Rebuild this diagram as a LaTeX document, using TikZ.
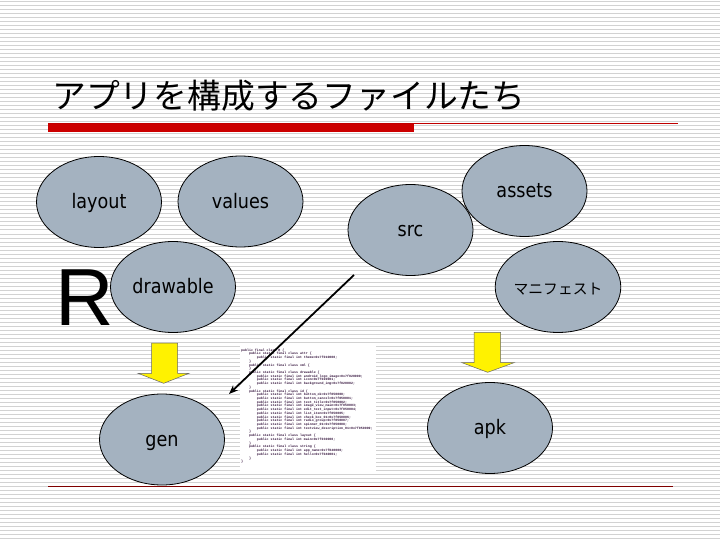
\documentclass[tikz,border=0pt]{standalone}
\usepackage{fontspec}
\usetikzlibrary{shapes.geometric,arrows.meta}
\newfontfamily\jp{Noto Sans CJK JP}
\newfontfamily\lab[FakeStretch=0.88]{DejaVu Sans}
\newfontfamily\bigR{Liberation Sans}
\newfontfamily\codefont{Liberation Mono}
\definecolor{stripe}{RGB}{210,210,210}
\definecolor{blobfill}{RGB}{164,178,192}
\definecolor{redbar}{RGB}{204,0,0}
\definecolor{redline}{RGB}{192,0,0}
\definecolor{botline}{RGB}{128,0,0}
\definecolor{codecol}{RGB}{56,24,64}
\newcommand{\ia}{\hspace*{7.84pt}}
\newcommand{\ib}{\hspace*{15.68pt}}
\tikzset{
  blob/.style={ellipse,draw=black,line width=0.8pt,fill=blobfill,inner sep=0pt,
    minimum width=125pt,minimum height=91pt,font=\lab\fontsize{20}{24}\selectfont,
    text height=16.7pt,text depth=3.3pt},
  jblob/.style={blob,font=\jp\fontsize{14.8}{18}\selectfont,text height=17pt,text depth=1.8pt},
  yarrow/.style={fill=yellow,draw=black!60,line width=0.5pt},
  stripeline/.style={stripe,line width=1pt}
}
\begin{document}
\begin{tikzpicture}[x=1pt,y=-1pt]
\useasboundingbox (0,0) rectangle (720,540);
\fill[white] (0,0) rectangle (720,540);
\foreach \k in {0,...,134} \draw[stripeline] (0,2+4*\k) -- (720,2+4*\k);
% title
\node[anchor=base west,inner sep=0pt,font=\jp\fontsize{33.8}{36}\selectfont] (title) at (52,109) {アプリを構成するファイルたち};
\draw[redline,line width=1pt] (48,123.5) -- (678,123.5);
\fill[redbar] (48,124) rectangle (414,132);
\draw[botline,line width=1pt] (48,486) -- (673,486);
% ellipses
\node[blob] (layout) at (99,202) {layout};
\node[blob] (values) at (240.5,201.5) {values};
\node[blob] (drawable) at (173,287) {drawable};
\node[blob] (src) at (410.5,230) {src};
\node[blob] (assets) at (524.5,191) {assets};
\node[jblob] (manifest) at (558,287) {マニフェスト};
\node[blob] (gen) at (162,439.5) {gen};
\node[blob] (apk) at (490,428) {apk};
% big R
\node[anchor=base west,inner sep=0pt,font=\bigR\fontsize{81}{90}\selectfont] (bigr) at (55,325) {R};
% yellow arrows
\draw[yarrow] (151.7,343) -- (177.7,343) -- (177.7,373.3) -- (189,373.3) -- (163.7,383.3) -- (138,373.3) -- (151.7,373.3) -- cycle;
\draw[yarrow] (474,332.3) -- (500.7,332.3) -- (500.7,362.7) -- (514,362.7) -- (487.7,372.3) -- (462,362.7) -- (474,362.7) -- cycle;
% code image
\fill[white] (240,345) rectangle (376,471);
\node[anchor=north west,inner sep=0pt,align=left,text=codecol,
  font=\codefont\bfseries\fontsize{3.27}{3.72}\selectfont] (code) at (241,348.5) {%
public final class R \{\\
\ia public static final class attr \{\\
\ib public static final int theme=0x7f010000;\\
\ia \}\\
\ia public static final class xml \{\\
\ia \}\\
\ia public static final class drawable \{\\
\ib public static final int android\_logo\_image=0x7f020000;\\
\ib public static final int icon=0x7f020001;\\
\ib public static final int background\_img=0x7f020002;\\
\ia \}\\
\ia public static final class id \{\\
\ib public static final int button\_ok=0x7f050000;\\
\ib public static final int button\_cancel=0x7f050001;\\
\ib public static final int text\_title=0x7f050002;\\
\ib public static final int image\_view\_main=0x7f050003;\\
\ib public static final int edit\_text\_input=0x7f050004;\\
\ib public static final int list\_item=0x7f050005;\\
\ib public static final int check\_box\_01=0x7f050006;\\
\ib public static final int radio\_group=0x7f050007;\\
\ib public static final int spinner\_01=0x7f050008;\\
\ib public static final int textview\_description\_01=0x7f050009;\\
\ia \}\\
\ia public static final class layout \{\\
\ib public static final int main=0x7f030000;\\
\ia \}\\
\ia public static final class string \{\\
\ib public static final int app\_name=0x7f040000;\\
\ib public static final int hello=0x7f040001;\\
\ia \}\\
\}};
% black arrow
\coordinate (a1) at (354,275);
\coordinate (a2) at (229,394);
\draw[line width=1.8pt,-{Stealth[length=9pt,width=7pt]}] (a1) -- (a2);
\end{tikzpicture}
\end{document}
